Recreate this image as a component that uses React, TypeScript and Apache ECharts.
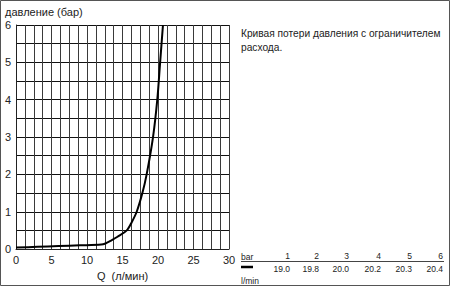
import React, { useEffect, useRef } from "react";
import * as echarts from "echarts";

const flowQ = [0, 3, 6, 9, 12, 12.6, 13.3, 14.3, 15.6, 16.3, 17.0, 17.8, 18.4, 19.3, 19.9, 20.3, 20.7];
const pressure = [0.04, 0.06, 0.08, 0.1, 0.12, 0.15, 0.22, 0.33, 0.5, 0.72, 1.0, 1.5, 2.0, 3.0, 4.0, 5.0, 6.0];
const tableBar = ["1", "2", "3", "4", "5", "6"];
const tableFlow = ["19.0", "19.8", "20.0", "20.2", "20.3", "20.4"];
const yAxisTitle = "давление (бар)";
const xAxisTitle = "Q  (л/мин)";
const noteLines = ["Кривая потери давления с ограничителем", "расхода."];

export default function App() {
  const ref = useRef<HTMLDivElement>(null);
  useEffect(() => {
    if (!ref.current) return;
    const chart = echarts.init(ref.current, undefined, { renderer: "svg" });
    const font = "Liberation Sans, Arial, sans-serif";
    const colX = [290, 319, 349, 381, 412, 443];
    const graphics: any[] = [
      { type: "rect", shape: { x: 0.5, y: 0.5, width: 449, height: 285 }, style: { fill: "none", stroke: "#555", lineWidth: 1 }, silent: true },
      { type: "text", left: 5, top: 6, style: { text: yAxisTitle, font: `11px ${font}`, fill: "#222" } },
      { type: "text", left: 241, top: 26, style: { text: noteLines.join("\n"), font: `10.2px ${font}`, fill: "#222", lineHeight: 14 } },
      { type: "text", left: 241, top: 252, style: { text: "bar", font: `8.5px ${font}`, fill: "#222" } },
      { type: "text", left: 241, top: 276, style: { text: "l/min", font: `8.5px ${font}`, fill: "#222" } },
      { type: "line", shape: { x1: 241, y1: 261.5, x2: 444, y2: 261.5 }, style: { stroke: "#444", lineWidth: 1 } },
      { type: "line", shape: { x1: 241, y1: 267, x2: 253, y2: 267 }, style: { stroke: "#000", lineWidth: 2.5 } },
    ];
    tableBar.forEach((t, i) => {
      graphics.push({ type: "text", x: colX[i], y: 256, style: { text: t, font: `8.5px ${font}`, fill: "#222", align: "right", verticalAlign: "middle" } });
    });
    tableFlow.forEach((t, i) => {
      graphics.push({ type: "text", x: colX[i], y: 269, style: { text: t, font: `8.5px ${font}`, fill: "#222", align: "right", verticalAlign: "middle" } });
    });
    chart.setOption({
      animation: false,
      backgroundColor: "#fff",
      grid: { left: 16, right: 221, top: 25, bottom: 32 },
      xAxis: {
        type: "value",
        min: 0,
        max: 30,
        interval: 1.25,
        name: xAxisTitle,
        nameLocation: "middle",
        nameGap: 17,
        nameTextStyle: { fontFamily: font, fontSize: 11, color: "#222" },
        axisLine: { show: true, lineStyle: { color: "#222" } },
        axisTick: { show: false },
        axisLabel: {
          margin: 5,
          fontFamily: font,
          fontSize: 11,
          color: "#222",
          formatter: (v: number) => (Math.abs(v % 5) < 1e-6 ? String(v) : ""),
        },
        splitLine: { show: true, lineStyle: { color: "#3a3a3a", width: 1 } },
      },
      yAxis: {
        type: "value",
        min: 0,
        max: 6,
        interval: 0.5,
        axisLine: { show: true, lineStyle: { color: "#222" } },
        axisTick: { show: false },
        axisLabel: {
          margin: 5,
          fontFamily: font,
          fontSize: 11,
          color: "#222",
          formatter: (v: number) => (Math.abs(v % 1) < 1e-6 ? String(v) : ""),
        },
        splitLine: { show: true, lineStyle: { color: "#111", width: 1 } },
      },
      series: [
        {
          type: "line",
          data: flowQ.map((q, i) => [q, pressure[i]]),
          smooth: 0.3,
          symbol: "none",
          lineStyle: { color: "#000", width: 2 },
          clip: true,
        },
      ],
      graphic: graphics,
    });
    return () => chart.dispose();
  }, []);
  return (
    <div style={{ position: "fixed", left: 0, top: 0, width: 450, height: 286, background: "#fff" }}>
      <div ref={ref} style={{ width: 450, height: 286 }} />
    </div>
  );
}
